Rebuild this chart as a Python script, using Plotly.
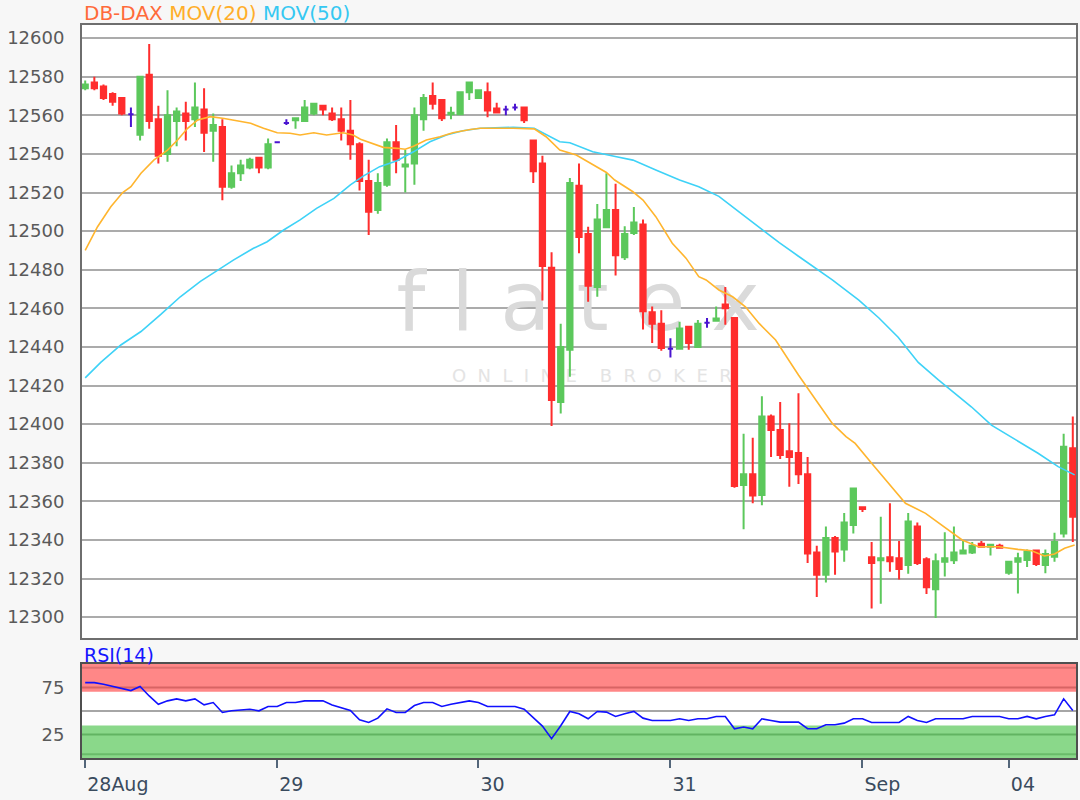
import plotly.graph_objects as go

# ---------------- data ----------------
open_ = [12574, 12577, 12575, 12571, 12569, 12560.5, 12550, 12581, 12558, 12540,
         12557, 12561, 12558, 12563, 12552, 12554, 12523, 12530, 12533, 12538,
         12533, 12546, 12556, 12557.5, 12557, 12561, 12565, 12561, 12558, 12552,
         12545, 12526, 12511, 12524, 12546, 12533.5, 12535, 12558, 12570, 12568,
         12560.5, 12560.5, 12572, 12569, 12572, 12563.5, 12563, 12564, 12564, 12547,
         12535, 12481, 12411.5, 12438.5, 12523.5, 12498.5, 12471, 12502, 12511, 12486.5,
         12499, 12503.5, 12458, 12452, 12439, 12439, 12450.5, 12440, 12452.5, 12453.6,
         12462, 12455, 12368.5, 12374, 12363.3, 12404, 12397, 12386, 12385, 12374,
         12333.5, 12322, 12341, 12335, 12347.7, 12357, 12331, 12329.5, 12331, 12330.5,
         12327, 12347, 12330, 12314.5, 12328.7, 12329.5, 12333, 12333.5, 12338, 12336.5,
         12337, 12323, 12328.7, 12329.6, 12334.5, 12327, 12331.3, 12343.4, 12387.5]
high = [12578, 12580, 12576, 12572, 12569, 12564, 12580, 12597, 12565, 12573,
        12564, 12567, 12577, 12574, 12561, 12558, 12534, 12537, 12538, 12538,
        12548, 12546, 12558, 12558.5, 12568, 12566, 12565, 12564, 12564, 12568,
        12546, 12537, 12530, 12548, 12555, 12542, 12564, 12571, 12577, 12568.5,
        12564.5, 12572, 12577.5, 12573, 12577, 12566.5, 12565, 12566, 12564.5, 12547,
        12539, 12489, 12452, 12527.5, 12535, 12502.3, 12514, 12530, 12524.5, 12502.5,
        12512.5, 12506, 12461, 12459, 12444.5, 12453, 12451, 12454, 12455, 12461,
        12471, 12455, 12395, 12393, 12414.5, 12405, 12411.5, 12400.5, 12416, 12383,
        12337, 12347, 12342, 12354, 12367, 12357.2, 12339, 12352, 12359, 12339.5,
        12354, 12349, 12331, 12333, 12344, 12347, 12340, 12339, 12339.5, 12338,
        12338, 12329, 12333.4, 12335, 12335, 12335, 12343.7, 12395, 12404]
low = [12573, 12573, 12568, 12565, 12560, 12554, 12547, 12553, 12535, 12536,
       12544, 12547, 12554, 12541, 12536, 12516, 12522, 12526, 12532, 12530,
       12532, 12546, 12555, 12553, 12557, 12560, 12560, 12557, 12547, 12537,
       12521, 12498, 12509, 12523, 12530, 12520, 12524, 12552, 12563, 12557,
       12558, 12560, 12568, 12569, 12559, 12561, 12560, 12562.5, 12556, 12525,
       12464, 12399, 12405.5, 12424.5, 12488.5, 12463.4, 12466, 12502, 12477, 12485,
       12498, 12449, 12442, 12438, 12434.5, 12438.5, 12438.5, 12440, 12450, 12453.5,
       12451.5, 12367, 12345.5, 12359, 12358, 12383, 12382, 12367.5, 12369, 12328,
       12310.5, 12318, 12322, 12328.7, 12343.4, 12354.5, 12304.5, 12307, 12323.5, 12319.5,
       12322.5, 12327, 12312, 12299.5, 12321, 12327.5, 12332.5, 12332.7, 12336, 12332,
       12335.5, 12322, 12312.3, 12326, 12326.5, 12322.7, 12328.7, 12341.3, 12339]
close = [12576, 12574, 12569, 12567, 12561, 12560.5, 12580, 12557, 12539, 12560,
         12562, 12557, 12564, 12551, 12555, 12523, 12530, 12534, 12537, 12533,
         12545, 12546, 12556, 12558.5, 12564, 12566, 12563, 12558, 12552, 12545,
         12526, 12510, 12525, 12546, 12537, 12534.5, 12560, 12569, 12566, 12558.5,
         12561.3, 12572, 12577, 12573, 12562.5, 12561.5, 12563, 12564, 12557.5, 12531,
         12482, 12412.5, 12440, 12525, 12497, 12471.7, 12506, 12511, 12487.5, 12498.5,
         12504.5, 12458.5, 12452, 12439.5, 12439, 12449.5, 12442, 12452, 12452.5, 12454.8,
         12460, 12368, 12374, 12363, 12404, 12397, 12384, 12383, 12374, 12333,
         12322, 12341, 12334, 12349, 12366.7, 12356, 12328, 12330.5, 12329, 12325,
         12349.5, 12328, 12315.5, 12329, 12330.5, 12333.5, 12334.5, 12337, 12336.5, 12337.5,
         12336, 12328.7, 12330.5, 12334, 12327.5, 12332.7, 12339, 12388.3, 12352]

rsi14 = [80.2, 80.2, 78.5, 76.5, 74.5, 71.7, 76.0, 66.0, 57.2, 60.8,
         62.9, 60.8, 62.9, 56.5, 59.0, 48.4, 50.2, 51.0, 51.9, 50.2,
         54.8, 54.8, 59.0, 59.0, 60.8, 60.8, 60.8, 56.5, 53.5, 50.5,
         40.6, 37.8, 42.4, 52.3, 48.4, 48.4, 55.8, 59.0, 59.0, 54.8,
         57.2, 59.0, 60.8, 59.0, 54.8, 54.8, 54.8, 54.8, 51.9, 42.4,
         34.0, 20.5, 34.3, 49.5, 47.0, 41.7, 49.5, 48.8, 44.2, 47.0,
         49.5, 42.4, 39.9, 39.9, 39.9, 41.7, 39.9, 41.7, 41.7, 44.2,
         44.2, 31.1, 32.9, 31.1, 41.7, 39.9, 38.2, 38.2, 38.2, 31.1,
         31.1, 35.3, 35.3, 37.1, 41.7, 41.7, 37.8, 37.8, 37.8, 37.8,
         44.2, 39.9, 37.8, 41.7, 41.7, 41.7, 41.7, 44.2, 44.2, 44.2,
         44.2, 41.7, 41.7, 44.2, 41.7, 44.2, 45.9, 62.9, 50.5]

ma20_pos = [0, 1.35, 2.8, 4.1, 5.0, 6.1, 7.5, 9.0, 10.1, 11.2, 12.3, 13.7, 15.2, 16.6,
            18.1, 19.5, 21.0, 22.4, 23.5, 25.0, 26.4, 28.2, 29.3, 30.1, 31.2, 32.6,
            34.1, 35.0, 35.9, 37.3, 38.8, 40.2, 42.1, 43.2, 46.8, 49.1, 50.4, 51.9,
            53.7, 55.5, 57.0, 57.9, 59.9, 61.0, 62.4, 64.2, 65.7, 67.1, 67.9, 69.3,
            70.8, 72.2, 73.7, 75.5, 78.0, 79.9, 81.7, 83.2, 84.2, 86.0, 87.9, 89.7,
            91.9, 94.0, 95.9, 97.7, 99.9, 102.0, 103.5, 104.9, 106.0, 107.1, 108.2]
ma20_val = [12490, 12502.3, 12512.6, 12520, 12523, 12530, 12536.8, 12542, 12547.2,
            12553.3, 12557.6, 12559.3, 12558.4, 12557.2, 12555.9, 12553.3, 12551,
            12550.7, 12549.8, 12551, 12549.8, 12551, 12549.8, 12547.6, 12545.8,
            12543.4, 12542.9, 12542.4, 12544, 12547.2, 12548.9, 12551, 12552.7,
            12553.3, 12553.3, 12553, 12548.9, 12542, 12539.4, 12534.3, 12530.4,
            12526.5, 12520.4, 12516.1, 12507.5, 12493.7, 12486, 12476.4, 12474.7,
            12469.5, 12466, 12460.8, 12452.2, 12443.6, 12425.5, 12412.5, 12400.4,
            12393.5, 12390, 12379.7, 12369.3, 12359, 12353.8, 12346.8, 12340,
            12336.5, 12336.5, 12335.1, 12334.4, 12331.7, 12332.7, 12335.7, 12337.4]

ma50_pos = [0, 1.7, 3.9, 6.1, 8.3, 10.4, 12.6, 14.8, 16.2, 18.4, 19.9, 21.7, 23.5,
            25.3, 27.2, 29.0, 30.4, 32.2, 34.1, 35.9, 37.7, 39.5, 41.3, 43.2, 46.8,
            49.1, 51.9, 53.0, 55.5, 58.1, 59.9, 62.4, 65.0, 67.1, 69.3, 71.5, 73.7,
            75.9, 78.0, 81.7, 84.6, 86.8, 88.9, 91.1, 93.3, 95.1, 96.9, 99.1, 100.6,
            102.0, 104.2, 106.4, 108.2]
ma50_val = [12424, 12432, 12441, 12448, 12457, 12466, 12474, 12481, 12485, 12491.1,
            12494.5, 12500.6, 12505.8, 12511.8, 12517, 12524, 12528.5, 12533.4,
            12536.5, 12541.1, 12546.3, 12549.8, 12552, 12553.3, 12553.8, 12553.3,
            12546.3, 12545.8, 12541.1, 12538.5, 12536.8, 12531.7, 12526.5, 12523,
            12518, 12510, 12502, 12494, 12487, 12474.7, 12464.3, 12455, 12445,
            12432, 12422.9, 12416, 12409, 12399.5, 12395.2, 12390.9, 12384.9,
            12378, 12373.7]

day_tick_pos = [0, 21, 43, 64, 85, 101]
day_tick_text = ["28Aug", "29", "30", "31", "Sep", "04"]
price_ticks = list(range(12300, 12601, 20))
rsi_ticks = [25, 75]
rsi_tick_text = ["25", "75"]

# ---------------- styling ----------------
UP = "#5cc85c"
DOWN = "#ff2d2d"
DOJI = "#4a14d0"
MA20_C = "#ffb52e"
MA50_C = "#3ed2f7"
FONT = "DejaVu Sans"
NB = "\u00a0"

N = len(open_)
xs = list(range(N))
doji = [i for i in xs if open_[i] == close[i]]
reg = [i for i in xs if open_[i] != close[i]]

fig = go.Figure()

# watermark, on an underlying twin axis so it sits below the candles
wm_big = " ".join("flatex")
wm_small = (NB * 2).join("ONLINE") + NB * 4 + (NB * 2).join("BROKER")
fig.add_trace(go.Scatter(
    x=[53.9, 55.4], y=[12459.5, 12424],
    mode="text", text=[wm_big, wm_small], yaxis="y3",
    textfont=dict(family=FONT, size=[82, 18], color=["#dadada", "#e4e4e4"]),
    hoverinfo="skip", showlegend=False))

fig.add_trace(go.Candlestick(
    x=[xs[i] for i in reg],
    open=[open_[i] for i in reg], high=[high[i] for i in reg],
    low=[low[i] for i in reg], close=[close[i] for i in reg],
    increasing=dict(line=dict(color=UP, width=2), fillcolor=UP),
    decreasing=dict(line=dict(color=DOWN, width=2), fillcolor=DOWN),
    whiskerwidth=0, hoverinfo="skip", showlegend=False))

fig.add_trace(go.Candlestick(
    x=[xs[i] for i in doji],
    open=[open_[i] for i in doji], high=[high[i] for i in doji],
    low=[low[i] for i in doji], close=[close[i] for i in doji],
    increasing=dict(line=dict(color=DOJI, width=2), fillcolor=DOJI),
    decreasing=dict(line=dict(color=DOJI, width=2), fillcolor=DOJI),
    whiskerwidth=0, hoverinfo="skip", showlegend=False))

fig.add_trace(go.Scatter(x=ma50_pos, y=ma50_val, mode="lines",
                         line=dict(color=MA50_C, width=1.6), hoverinfo="skip",
                         showlegend=False))
fig.add_trace(go.Scatter(x=ma20_pos, y=ma20_val, mode="lines",
                         line=dict(color=MA20_C, width=1.6), hoverinfo="skip",
                         showlegend=False))

fig.add_trace(go.Scatter(x=xs, y=rsi14, mode="lines", xaxis="x2", yaxis="y2",
                         line=dict(color="#1010ff", width=1.6), hoverinfo="skip",
                         showlegend=False))

xr = [-0.35, 108.35]
yr = [12289.2, 12606.8]
main_bottom = (758 - 638) / 733
rsi_top = (758 - 664) / 733


def hline(y, color):
    return dict(type="line", xref="x2 domain", yref="y2", x0=0, x1=1, y0=y, y1=y,
                line=dict(color=color, width=2), layer="below")


fig.update_layout(
    width=1080, height=800,
    margin=dict(l=82, r=2, t=25, b=42),
    paper_bgcolor="#f7f7f7", plot_bgcolor="#ffffff",
    showlegend=False,
    boxgap=0.24, boxgroupgap=0.24,
    font=dict(family=FONT, color="#555555"),
    xaxis=dict(domain=[0, 1], anchor="y", range=xr, showticklabels=False,
               showgrid=False, zeroline=False, showline=True, mirror=True,
               linecolor="#6e6e6e", linewidth=2, ticks="",
               rangeslider=dict(visible=False)),
    yaxis3=dict(domain=[main_bottom, 1], anchor="x", range=yr, visible=False,
                showgrid=False, zeroline=False),
    yaxis=dict(domain=[main_bottom, 1], anchor="x", range=yr, overlaying="y3",
               tickvals=price_ticks, ticktext=[str(v) for v in price_ticks],
               showgrid=True, gridcolor="#ababab", gridwidth=2,
               zeroline=False, showline=True, mirror=True, linecolor="#6e6e6e",
               linewidth=2, ticks="", tickfont=dict(size=18, color="#5a5a5a"),
               ticklabelstandoff=12),
    xaxis2=dict(domain=[0, 1], anchor="y2", range=xr, matches="x",
                tickvals=day_tick_pos, ticktext=day_tick_text,
                ticks="outside", ticklen=8, tickwidth=2, tickcolor="#54667a",
                tickfont=dict(size=19, color="#3a4b5e"),
                ticklabelposition="outside right", ticklabelstandoff=8,
                showgrid=False, zeroline=False, showline=True, mirror=True,
                linecolor="#4f4f4f", linewidth=2),
    yaxis2=dict(domain=[0, rsi_top], anchor="x2", range=[0, 100],
                tickvals=rsi_ticks, ticktext=rsi_tick_text,
                showgrid=False, zeroline=False,
                showline=True, mirror=True, linecolor="#4f4f4f", linewidth=2,
                ticks="", tickfont=dict(size=18, color="#5a5a5a"),
                ticklabelstandoff=12),
    shapes=[
        dict(type="rect", xref="x2 domain", yref="y2", x0=0, x1=1, y0=70.5, y1=100,
             fillcolor="#ff8787", line=dict(width=0), layer="below"),
        dict(type="rect", xref="x2 domain", yref="y2", x0=0, x1=1, y0=0, y1=34.5,
             fillcolor="#8ad88a", line=dict(width=0), layer="below"),
        hline(50, "#a6a6a6"),
        hline(75, "#d86464"),
        hline(96, "#e07070"),
        hline(25, "#62b462"),
        hline(4, "#6abc6a"),
    ],
    annotations=[
        dict(xref="paper", yref="paper", x=0, y=1 + 12 / 733, xanchor="left",
             yanchor="middle", showarrow=False,
             text=("<span style='color:#ff6a3a'>DB-DAX</span> "
                   "<span style='color:#ffae2a'>MOV(20)</span> "
                   "<span style='color:#35c8f2'>MOV(50)</span>"),
             font=dict(family=FONT, size=20)),
        dict(xref="paper", yref="paper", x=0, y=(758 - 655) / 733, xanchor="left",
             yanchor="middle", showarrow=False, text="RSI(14)",
             font=dict(family=FONT, size=19, color="#1515ff")),
    ],
)

fig.write_html(
    "out.html",
    config={"displayModeBar": False},
    post_script="document.body.style.margin='0px';"
                "document.body.style.background='#f7f7f7';")
